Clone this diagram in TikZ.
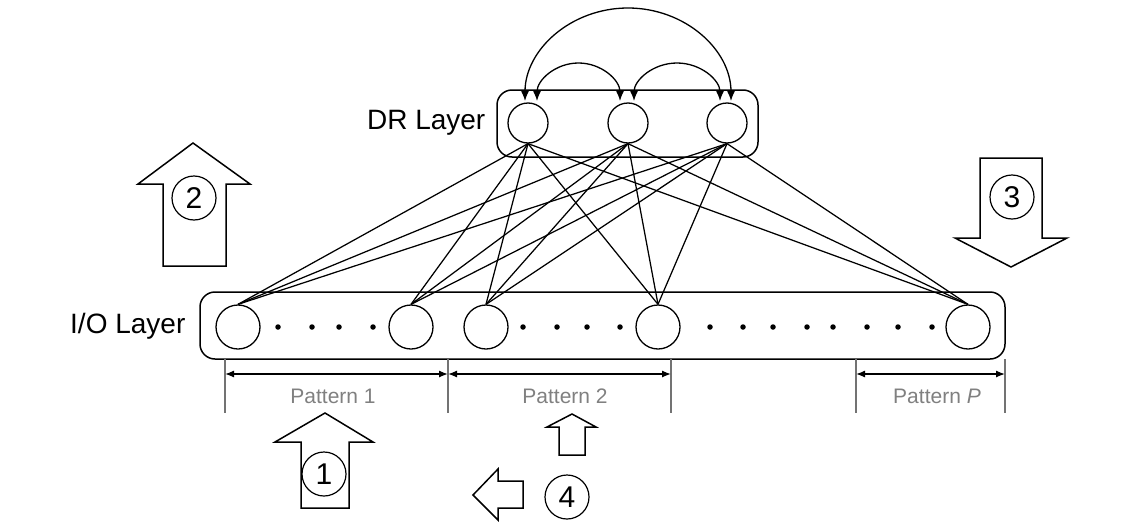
\documentclass[tikz,border=0pt]{standalone}
\usepackage{fontspec}
\setmainfont{Liberation Sans}
\usetikzlibrary{arrows.meta}
\begin{document}
\begin{tikzpicture}[x=1pt,y=-1pt, line width=1.3pt,
  drneuron/.style={draw, circle, minimum size=40pt, inner sep=0pt},
  ioneuron/.style={draw, circle, minimum size=44pt, inner sep=0pt},
  layerbox/.style={draw, rounded corners=15pt, inner sep=0pt, line width=1.5pt},
  layerlabel/.style={font=\fontsize{28}{30}\selectfont, anchor=east, inner sep=0pt},
  numcirc/.style={draw, circle, minimum size=44pt, inner sep=0pt, line width=1.2pt, font=\fontsize{30}{32}\selectfont},
  pattext/.style={text=black!50, font=\fontsize{21}{24}\selectfont, inner sep=0pt},
  patline/.style={draw=black!55, line width=1.4pt},
  dimarrow/.style={{Latex[length=9pt,width=7pt]}-{Latex[length=9pt,width=7pt]}, line width=1.3pt},
  recarrow/.style={{Latex[length=10pt,width=8pt]}-{Latex[length=10pt,width=8pt]}, line width=1.3pt},
  bigarrow/.style={draw, line width=1.5pt, line join=miter},
  link/.style={line width=1.25pt},
  iodot/.style={circle, fill, inner sep=0pt, minimum size=5.5pt}
]
\useasboundingbox (0,0) rectangle (1140,522);

% layer boxes
\node[layerbox, minimum width=261pt, minimum height=67pt] (drbox) at (627.5,123.5) {};
\node[layerbox, minimum width=805pt, minimum height=67pt] (iobox) at (602.5,325.5) {};

% labels
\node[layerlabel] (drlabel) at (486,123) {DR Layer};
\node[layerlabel] (iolabel) at (186,326) {I/O Layer};

% DR neurons
\node[drneuron] (dr1) at (528,123) {};
\node[drneuron] (dr2) at (628,123) {};
\node[drneuron] (dr3) at (727,123) {};

% I/O neurons
\node[ioneuron] (io1) at (238,327) {};
\node[ioneuron] (io2) at (411,327) {};
\node[ioneuron] (io3) at (486,327) {};
\node[ioneuron] (io4) at (658,327) {};
\node[ioneuron] (io5) at (968,327) {};

% dots
\foreach \x [count=\i] in {278,312,339,373,523,557,587,620,710,743,773,807,833,867,898,932}
  \node[iodot] (dot\i) at (\x,327) {};

% full connections
\foreach \a in {dr1,dr2,dr3}
  \foreach \b in {io1,io2,io3,io4,io5}
    \draw[link] (\a.south) -- (\b.north);

% recurrent connections
\coordinate (r1L) at (525,101);
\coordinate (r1R) at (537,101);
\coordinate (r2R) at (634,101);
\draw[recarrow] (r1L) arc[start angle=180, end angle=0, x radius=103pt, y radius=93pt];
\draw[recarrow] (r1R) arc[start angle=180, end angle=0, x radius=41.5pt, y radius=38pt];
\draw[recarrow] (r2R) arc[start angle=180, end angle=0, x radius=43pt, y radius=38pt];

% pattern ticks and dimension arrows
\foreach \x [count=\i] in {225,448,671,856,1005} {
  \coordinate (tt\i) at (\x,359);
  \coordinate (tb\i) at (\x,413);
  \coordinate (ta\i) at (\x,374);
  \draw[patline] (tt\i) -- (tb\i);
}
\draw[dimarrow] (ta1) -- (ta2);
\draw[dimarrow] (ta2) -- (ta3);
\draw[dimarrow] (ta4) -- (ta5);
\node[pattext] (pl1) at (333,396) {Pattern 1};
\node[pattext] (pl2) at (565,396) {Pattern 2};
\node[pattext] (plp) at (937,396) {Pattern \textit{P}};

% big hollow arrows
\draw[bigarrow] (163,266) -- (163,184) -- (138,184) -- (193,143) -- (250,184) -- (226,184) -- (226,266) -- cycle;
\node[numcirc] (n2) at (194,198) {2};

\draw[bigarrow] (980,158) -- (980,238) -- (955,238) -- (1011,267) -- (1067,238) -- (1042,238) -- (1042,158) -- cycle;
\node[numcirc] (n3) at (1012,197) {3};

\draw[bigarrow] (301,508) -- (301,442) -- (275,442) -- (325,413) -- (373,442) -- (349,442) -- (349,508) -- cycle;
\node[numcirc] (n1) at (324,474) {1};

\draw[bigarrow] (559,455) -- (559,427) -- (547,427) -- (572,414) -- (596,427) -- (585,427) -- (585,455) -- cycle;

\draw[bigarrow] (523,481) -- (498,481) -- (498,469) -- (473,495) -- (498,520) -- (498,508) -- (523,508) -- cycle;
\node[numcirc] (n4) at (567,497) {4};
\end{tikzpicture}
\end{document}
